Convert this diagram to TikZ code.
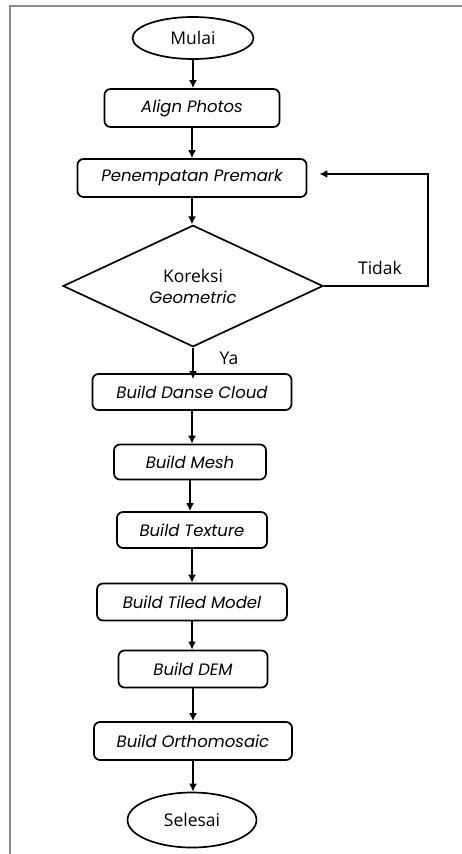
\documentclass[tikz,border=0pt]{standalone}
\usepackage{fontspec}
\setmainfont{Open Sans}
\newfontfamily\popit{Poppins}[UprightFont=* Italic]
\usetikzlibrary{shapes.geometric,arrows.meta}
\definecolor{framegray}{HTML}{8A8A8A}
\begin{document}
\begin{tikzpicture}[x=1pt,y=-1pt,
  every node/.style={font=\fontsize{17.5}{20}\selectfont},
  proc/.style={draw, line width=1.7pt, rounded corners=6pt, inner sep=0pt, font=\popit\fontsize{16.5}{20}\selectfont},
  term/.style={draw, ellipse, line width=1.7pt, inner sep=0pt},
  decis/.style={draw, diamond, line width=1.7pt, inner sep=0pt, align=center},
  arr/.style={-{Latex[length=8pt,width=8pt]}, line width=1.7pt},
  lbl/.style={inner sep=0pt}]
\useasboundingbox (0,0) rectangle (462,854);
\draw[framegray, line width=2pt] (10,856) -- (10,6) -- (464,6);
\node[term, minimum width=121pt, minimum height=42pt] (mulai) at (193,38) {Mulai};
\node[proc, minimum width=175pt, minimum height=38pt] (align) at (192,108) {Align Photos};
\node[proc, minimum width=229pt, minimum height=38pt] (pp) at (192,178) {Penempatan Premark};
\node[decis, minimum width=260pt, minimum height=108pt] (kg) at (193,286) {Koreksi\\[1pt]{\popit\fontsize{16.5}{20}\selectfont Geometric}};
\node[proc, minimum width=199pt, minimum height=36pt] (dc) at (192,392) {Build Danse Cloud};
\node[proc, minimum width=152pt, minimum height=35pt] (mesh) at (190,462) {Build Mesh};
\node[proc, minimum width=150pt, minimum height=36pt] (tex) at (192,530) {Build Texture};
\node[proc, minimum width=190pt, minimum height=37pt] (tiled) at (192,602) {Build Tiled Model};
\node[proc, minimum width=149pt, minimum height=37pt] (dem) at (193,669) {Build DEM};
\node[proc, minimum width=198pt, minimum height=38pt] (ortho) at (193,741) {Build Orthomosaic};
\node[term, minimum width=129pt, minimum height=55pt] (sel) at (192,820) {Selesai};
\node[lbl] (ya) at (229,358) {Ya};
\node[lbl] (tidak) at (380,268) {Tidak};
\coordinate (ret) at (428,174);
\draw[arr] (mulai.south) -- (mulai.south |- align.north);
\draw[arr] (align.south) -- (align.south |- pp.north);
\draw[arr] (pp.south) -- (pp.south |- kg.north);
\draw[arr] (kg.south) -- ([yshift=-6pt]kg.south |- dc.north);
\draw[arr] (dc.south) -- (dc.south |- mesh.north);
\draw[arr] (mesh.south) -- (mesh.south |- tex.north);
\draw[arr] (tex.south) -- (tex.south |- tiled.north);
\draw[arr] (tiled.south) -- (tiled.south |- dem.north);
\draw[arr] (dem.south) -- (dem.south |- ortho.north);
\draw[arr] (ortho.south) -- (ortho.south |- sel.north);
\draw[arr, shorten >=12pt] (kg.east) -| (ret) -- (ret -| pp.east);
\end{tikzpicture}
\end{document}
